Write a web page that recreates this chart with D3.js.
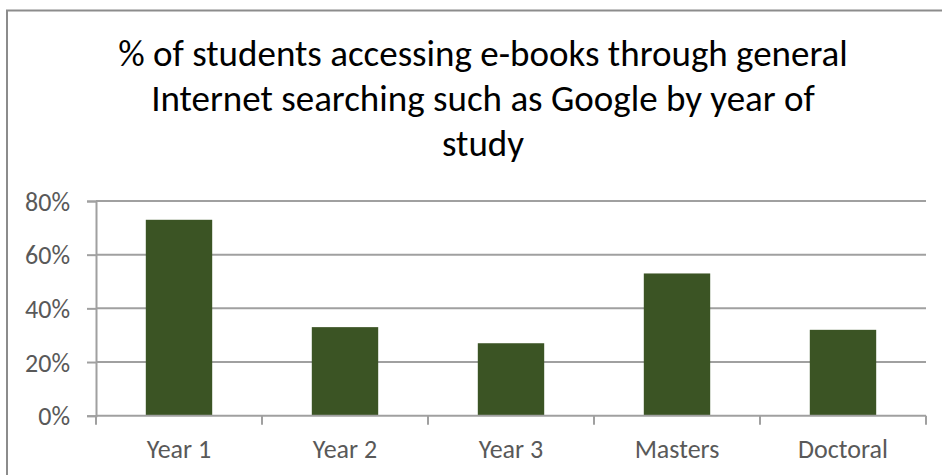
<!DOCTYPE html>
<html>
<head>
<meta charset="utf-8">
<script src="https://cdn.jsdelivr.net/npm/d3@7"></script>
<style>
  html, body { margin: 0; padding: 0; background: #fff; }
  svg { display: block; }
  text { font-family: Carlito, Calibri, Lato, "Open Sans", sans-serif; }
</style>
</head>
<body>
<svg id="chart" width="942" height="475"></svg>
<script>
// Share of students using general web search (e.g. Google) to reach e-books
const categories = ["Year 1", "Year 2", "Year 3", "Masters", "Doctoral"];
const values = [0.73, 0.33, 0.27, 0.53, 0.32];
const yTicks = [0, 0.2, 0.4, 0.6, 0.8];
const titleLines = [
  "% of students accessing e-books through general",
  "Internet searching such as Google by year of",
  "study"
];

const svg = d3.select("#chart");
const W = 942, H = 475;
const plot = { left: 96, right: 926, top: 201, bottom: 415.7 };

// outer chart frame
svg.append("rect")
  .attr("x", 7).attr("y", 10.5)
  .attr("width", W + 20).attr("height", H + 20)
  .attr("fill", "#fff")
  .attr("stroke", "#8c8c8c").attr("stroke-width", 2);

// title
svg.append("g").selectAll("text")
  .data(titleLines)
  .join("text")
  .attr("x", 483)
  .attr("y", (d, i) => 66 + i * 45)
  .attr("text-anchor", "middle")
  .attr("font-size", 37)
  .attr("fill", "#000")
  .text(d => d);

const x = d3.scaleBand()
  .domain(categories)
  .range([plot.left, plot.right])
  .paddingInner(0.6)
  .paddingOuter(0.3);

const y = d3.scaleLinear()
  .domain([0, 0.8])
  .range([plot.bottom, plot.top]);

// horizontal gridlines
svg.append("g").selectAll("line")
  .data(yTicks.filter(t => t > 0))
  .join("line")
  .attr("x1", plot.left).attr("x2", plot.right)
  .attr("y1", d => y(d)).attr("y2", d => y(d))
  .attr("stroke", "#a0a0a0").attr("stroke-width", 2);

// bars
svg.append("g").selectAll("rect")
  .data(values)
  .join("rect")
  .attr("x", (d, i) => x(categories[i]))
  .attr("y", d => y(d))
  .attr("width", x.bandwidth())
  .attr("height", d => y(0) - y(d))
  .attr("fill", "#3b5424");

// y axis
const yAxis = svg.append("g")
  .attr("transform", `translate(${plot.left},0)`)
  .call(d3.axisLeft(y).tickValues(yTicks).tickFormat(d3.format(".0%")).tickSize(9).tickPadding(17));
yAxis.select(".domain").attr("stroke", "#a0a0a0").attr("stroke-width", 2);
yAxis.selectAll(".tick line").attr("stroke", "#a0a0a0").attr("stroke-width", 2);
yAxis.selectAll(".tick text")
  .attr("font-size", 26)
  .attr("fill", "#595959")
  .attr("font-family", "Carlito, Calibri, Lato, 'Open Sans', sans-serif")
  .attr("dy", "0.35em");

// x axis with ticks on category boundaries
const xAxis = svg.append("g")
  .attr("transform", `translate(0,${plot.bottom})`);
const boundaries = d3.range(categories.length + 1).map(i => plot.left + i * (plot.right - plot.left) / categories.length);
xAxis.append("line")
  .attr("x1", plot.left).attr("x2", plot.right)
  .attr("stroke", "#a0a0a0").attr("stroke-width", 2);
xAxis.selectAll("line.tk")
  .data(boundaries)
  .join("line")
  .attr("class", "tk")
  .attr("x1", d => d).attr("x2", d => d)
  .attr("y1", 0).attr("y2", 9)
  .attr("stroke", "#a0a0a0").attr("stroke-width", 2);
xAxis.selectAll("text")
  .data(categories)
  .join("text")
  .attr("x", d => x(d) + x.bandwidth() / 2)
  .attr("y", 42.5)
  .attr("text-anchor", "middle")
  .attr("font-size", 26)
  .attr("fill", "#595959")
  .text(d => d);
</script>
</body>
</html>
